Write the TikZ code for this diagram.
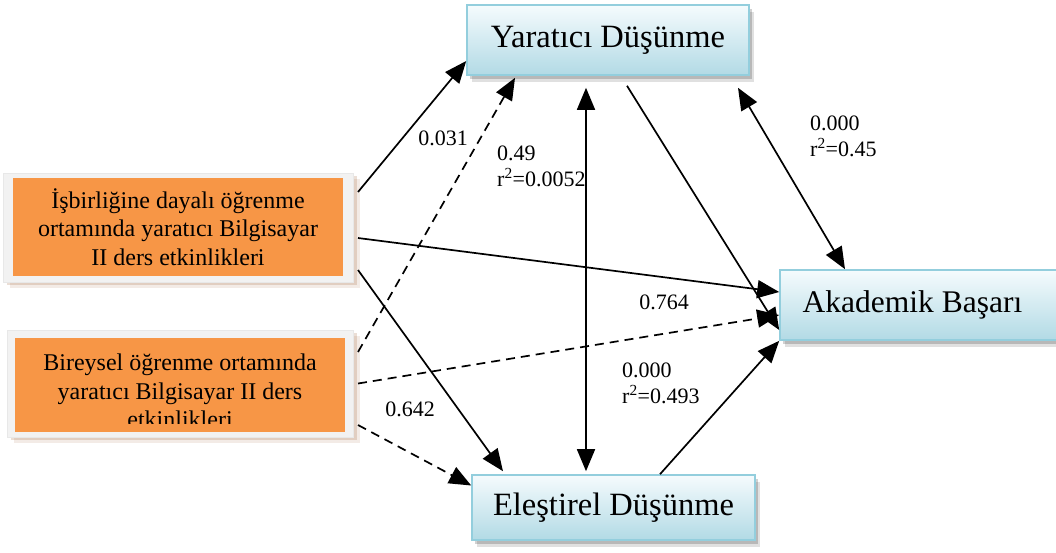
\documentclass[tikz,border=0pt]{standalone}
\usepackage{fontspec}
\setmainfont{Liberation Serif}
\usetikzlibrary{arrows.meta,shadows}
\definecolor{bluetop}{HTML}{F5FBFD}
\definecolor{bluebot}{HTML}{B2DAE5}
\definecolor{blueline}{HTML}{93CEDD}
\definecolor{orangefill}{HTML}{F79646}
\definecolor{framefill}{HTML}{F2F2F2}
\definecolor{framedraw}{HTML}{E8E8E8}
\definecolor{brownshadow}{HTML}{9C5A2E}
\begin{document}
\begin{tikzpicture}[x=1pt,y=-1pt,
  bluebox/.style={draw=blueline, line width=1.6pt, top color=bluetop, bottom color=bluebot,
    inner sep=0pt, minimum width=282pt, minimum height=70pt,
    drop shadow={shadow xshift=5pt, shadow yshift=-7pt, opacity=0.12, fill=black},
    drop shadow={shadow xshift=3pt, shadow yshift=-4pt, opacity=0.18, fill=black}},
  framebox/.style={fill=framefill, draw=framedraw, line width=0.6pt, outer sep=5pt,
    drop shadow={shadow xshift=7pt, shadow yshift=-6pt, opacity=0.12, fill=brownshadow},
    drop shadow={shadow xshift=4pt, shadow yshift=-3pt, opacity=0.2, fill=brownshadow}},
  orangebox/.style={fill=orangefill, draw=none, inner sep=0pt, minimum width=330pt},
  boxtext/.style={font=\fontsize{24}{28.5}\selectfont, align=center},
  lab/.style={font=\fontsize{22}{25.5}\selectfont, inner sep=0pt, align=left},
  arr/.style={line width=1.7pt, -{Triangle[length=22pt,width=18pt]}},
  darr/.style={line width=1.7pt, {Triangle[length=22pt,width=18pt]}-{Triangle[length=22pt,width=18pt]}},
  dsh/.style={dash pattern=on 9pt off 6pt}
]
\useasboundingbox (0,0) rectangle (1056,552);

% blue boxes
\node[bluebox, font=\fontsize{32.5}{38}\selectfont] (y1) at (608,40) {Yaratıcı Düşünme};
\node[bluebox, minimum height=70pt, font=\fontsize{31.5}{37}\selectfont] (ak) at (921,305) {\hspace*{-17pt}Akademik Başarı};
\node[bluebox, minimum width=283pt, minimum height=65pt, font=\fontsize{32.5}{38}\selectfont] (el) at (613.5,507.5) {Eleştirel Düşünme};

% orange boxes
\node[framebox, minimum width=350pt, minimum height=109pt] (f1) at (178,227.5) {};
\node[orangebox, minimum height=98pt, boxtext] (o1) at (178,227) {İşbirliğine dayalı öğrenme\\ortamında yaratıcı Bilgisayar\\II ders etkinlikleri};

\node[framebox, minimum width=346pt, minimum height=107pt] (f2) at (180,383.5) {};
\node[orangebox, minimum height=94pt] (o2) at (180,385) {};
\begin{scope}
  \clip (15,338) rectangle (345,423);
  \node[boxtext, inner sep=0pt] (t2) at (180,391) {Bireysel öğrenme ortamında\\yaratıcı Bilgisayar II ders\\etkinlikleri};
\end{scope}

% connectors
\draw[arr] ([yshift=35.5pt]f1.east) -- ([yshift=-21pt]y1.west);
\draw[arr,dsh] ([yshift=31.5pt]f2.east) -- ([xshift=-93pt,yshift=-2pt]y1.south);
\draw[darr] ([xshift=-22pt,yshift=-12pt]y1.south) -- ([xshift=-27.5pt,yshift=3pt]el.north);
\draw[arr] ([xshift=19pt,yshift=-10pt]y1.south) -- ([yshift=-25pt]ak.west);
\draw[darr] ([xshift=130pt,yshift=-12pt]y1.south) -- ([xshift=-76pt]ak.north);
\draw[arr] ([yshift=-10.5pt]f1.east) -- ([yshift=13pt]ak.west);
\draw[arr,dsh] (f2.east) -- ([yshift=-10pt]ak.west);
\draw[arr] ([yshift=-42.5pt]f1.east) -- ([xshift=-110.5pt,yshift=3pt]el.north);
\draw[arr,dsh] ([yshift=-41.5pt]f2.east) -- ([yshift=22pt]el.west);
\draw[arr] ([xshift=46.5pt]el.north) -- (ak.south west);

% labels
\node[lab] (l1) at (443,138) {0.031};
\node[lab, anchor=north west] (l2) at (497,146) {0.49\\r\textsuperscript{2}=0.0052};
\node[lab, anchor=north west] (l3) at (810,116) {0.000\\r\textsuperscript{2}=0.45};
\node[lab] (l4) at (664,302) {0.764};
\node[lab, anchor=north west] (l5) at (622,363) {0.000\\r\textsuperscript{2}=0.493};
\node[lab] (l6) at (410,409) {0.642};
\end{tikzpicture}
\end{document}
